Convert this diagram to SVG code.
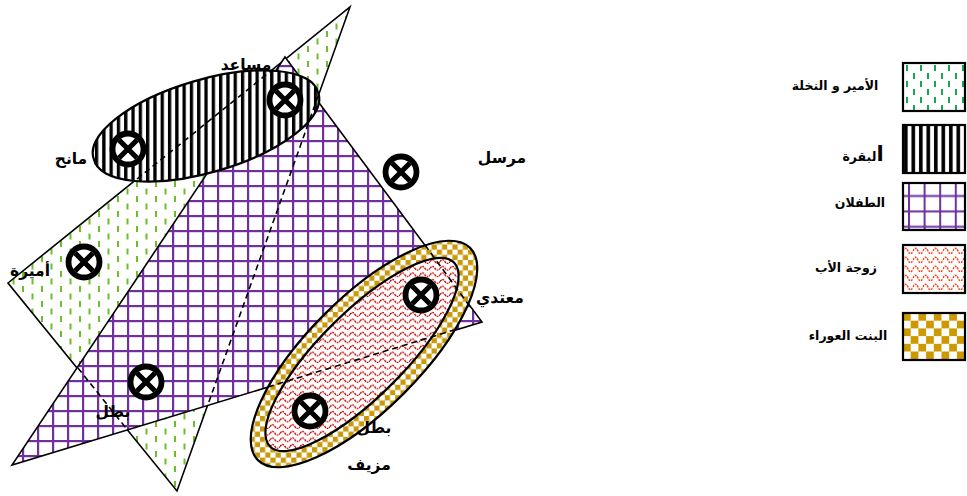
<svg xmlns="http://www.w3.org/2000/svg" xmlns:xlink="http://www.w3.org/1999/xlink" width="967" height="496" viewBox="0 0 967 496">
<style>
.edge{stroke:#000;stroke-width:1.6;stroke-linejoin:miter}
.oval{stroke:#000;stroke-width:2.2}
.hid{fill:none;stroke:#000;stroke-width:1.6;stroke-dasharray:6 4}
.lbl{font-family:"DejaVu Sans",sans-serif;font-weight:bold;font-size:15.5px;text-anchor:middle;fill:#000}
.leg{font-family:"DejaVu Sans",sans-serif;font-weight:bold;font-size:12.5px;text-anchor:middle;fill:#000}
.box{stroke:#000;stroke-width:2.2}
</style>
<defs>
<pattern id="pGreen" width="19" height="15" patternUnits="userSpaceOnUse">
<rect width="19" height="15" fill="#fff"/>
<rect x="3" y="1" width="2" height="6" fill="#6cbf2a"/>
<rect x="12.5" y="8.5" width="2" height="6" fill="#6cbf2a"/>
</pattern>
<pattern id="pGrid" x="7" y="5" width="15" height="15" patternUnits="userSpaceOnUse">
<rect width="15" height="15" fill="#fff"/>
<rect width="2.2" height="15" fill="#7030a0"/>
<rect width="15" height="2.2" fill="#7030a0"/>
</pattern>
<pattern id="pStripe" width="7.3" height="10" patternUnits="userSpaceOnUse">
<rect width="7.3" height="10" fill="#fff"/>
<rect width="3.3" height="10" fill="#000"/>
</pattern>
<pattern id="pCheck" width="10.4" height="10.4" patternUnits="userSpaceOnUse">
<rect width="10.4" height="10.4" fill="#fff"/>
<rect width="5.2" height="5.2" fill="#c9990b"/>
<rect x="5.2" y="5.2" width="5.2" height="5.2" fill="#c9990b"/>
</pattern>
<pattern id="pWave" width="10" height="6.6" patternUnits="userSpaceOnUse">
<rect width="10" height="6.6" fill="#fff"/>
<path d="M0,4.3 Q2.5,0.6 5,4.3 T10,4.3" fill="none" stroke="#c80000" stroke-width="1.4" stroke-dasharray="2 0.8"/>
</pattern>
<pattern id="lGreen" x="903" y="63" width="14" height="16" patternUnits="userSpaceOnUse">
<rect width="14" height="16" fill="#fff"/>
<rect x="3" y="2" width="2" height="6" fill="#14a84b"/>
<rect x="10" y="10" width="2" height="6" fill="#14a84b"/>
</pattern>
<pattern id="lStripe" x="903" y="0" width="7.5" height="10" patternUnits="userSpaceOnUse">
<rect width="7.5" height="10" fill="#fff"/>
<rect x="1" width="3.6" height="10" fill="#000"/>
</pattern>
<pattern id="lGrid" x="908" y="183" width="15.6" height="15.4" patternUnits="userSpaceOnUse">
<rect width="15.6" height="15.4" fill="#fff"/>
<rect x="0" width="2" height="15.4" fill="#7030a0"/>
<rect y="12" width="15.6" height="2" fill="#7030a0"/>
</pattern>
<pattern id="lWave" x="903" y="245" width="10" height="9" patternUnits="userSpaceOnUse">
<rect width="10" height="9" fill="#fff"/>
<path d="M0,6 Q2.5,0.5 5,6 T10,6" fill="none" stroke="#ff3d14" stroke-width="1.5" stroke-dasharray="2 1"/>
</pattern>
<pattern id="lCheck" x="903" y="313" width="15.4" height="15.4" patternUnits="userSpaceOnUse">
<rect width="15.4" height="15.4" fill="#fff"/>
<rect width="7.7" height="7.7" fill="#cc9900"/>
<rect x="7.7" y="7.7" width="7.7" height="7.7" fill="#cc9900"/>
</pattern>
<g id="xm">
<circle r="15.5" fill="#fff" stroke="#000" stroke-width="5.8"/>
<path d="M-9,-9 L9,9 M9,-9 L-9,9" stroke="#000" stroke-width="5.2" fill="none"/>
</g>
</defs>

<rect width="967" height="496" fill="#fff"/>

<g id="amir-nakhla">
<polygon class="edge" points="8,283 350,7 177,491" fill="url(#pGreen)"/>
</g>
<g id="tiflan">
<polygon class="edge" points="285,57 482,322 12,465" fill="url(#pGrid)"/>
</g>
<g id="baqara">
<path class="oval" fill="url(#pStripe)" d="M93.8,159 A117,45 -16.4 1 0 318.2,93 A117,45 -16.4 1 0 93.8,159 Z"/>
</g>
<g id="bint-awraa">
<path class="oval" fill="url(#pCheck)" d="M257.9,460.1 A150,56 -45 1 0 470.1,247.9 A150,56 -45 1 0 257.9,460.1 Z"/>
</g>
<g id="zawjat-ab">
<path class="oval" fill="url(#pWave)" d="M270,446.4 A130,42 -45 1 0 454,262.6 A130,42 -45 1 0 270,446.4 Z"/>
</g>

<g id="connectors">
<line class="hid" x1="318.5" y1="95" x2="207.6" y2="405.5"/>
<line class="hid" x1="77.9" y1="367.9" x2="128" y2="430.6"/>
<line class="hid" x1="137" y1="179" x2="272" y2="70"/>
<line class="hid" x1="425" y1="245" x2="468" y2="304"/>
<line class="hid" x1="268" y1="387" x2="454" y2="330"/>
</g>

<g id="characters">
<use xlink:href="#xm" href="#xm" x="128" y="149"/>
<use xlink:href="#xm" href="#xm" x="285" y="100"/>
<use xlink:href="#xm" href="#xm" x="401" y="172"/>
<use xlink:href="#xm" href="#xm" x="84" y="262"/>
<use xlink:href="#xm" href="#xm" x="146" y="382"/>
<use xlink:href="#xm" href="#xm" x="421" y="295"/>
<use xlink:href="#xm" href="#xm" x="310" y="411"/>
</g>

<g id="labels">
<text class="lbl" x="246" y="70">مساعد</text>
<text class="lbl" x="71" y="164">مانح</text>
<text class="lbl" x="30" y="276">أميرة</text>
<text class="lbl" x="113" y="417">بطل</text>
<text class="lbl" x="502" y="163">مرسل</text>
<text class="lbl" x="500" y="303">معتدي</text>
<text class="lbl" x="374" y="433">بطل</text>
<text class="lbl" x="369" y="470">مزيف</text>
</g>

<g id="legend">
<g id="leg-amir"><rect class="box" x="903" y="63" width="62" height="48" fill="url(#lGreen)"/><text class="leg" x="835" y="90">الأمير و النخلة</text></g>
<g id="leg-baqara"><rect class="box" x="903" y="125" width="62" height="48" fill="url(#lStripe)"/><text class="leg" x="863" y="161"><tspan font-size="21">ا</tspan>لبقرة</text></g>
<g id="leg-tiflan"><rect class="box" x="903" y="183" width="62" height="47" fill="url(#lGrid)"/><text class="leg" x="860" y="207">الطفلان</text></g>
<g id="leg-zawja"><rect class="box" x="903" y="245" width="62" height="48" fill="url(#lWave)"/><text class="leg" x="846" y="272">زوجة الأب</text></g>
<g id="leg-bint"><rect class="box" x="903" y="313" width="62" height="47" fill="url(#lCheck)"/><text class="leg" x="848" y="340">البنت العوراء</text></g>
</g>
</svg>
